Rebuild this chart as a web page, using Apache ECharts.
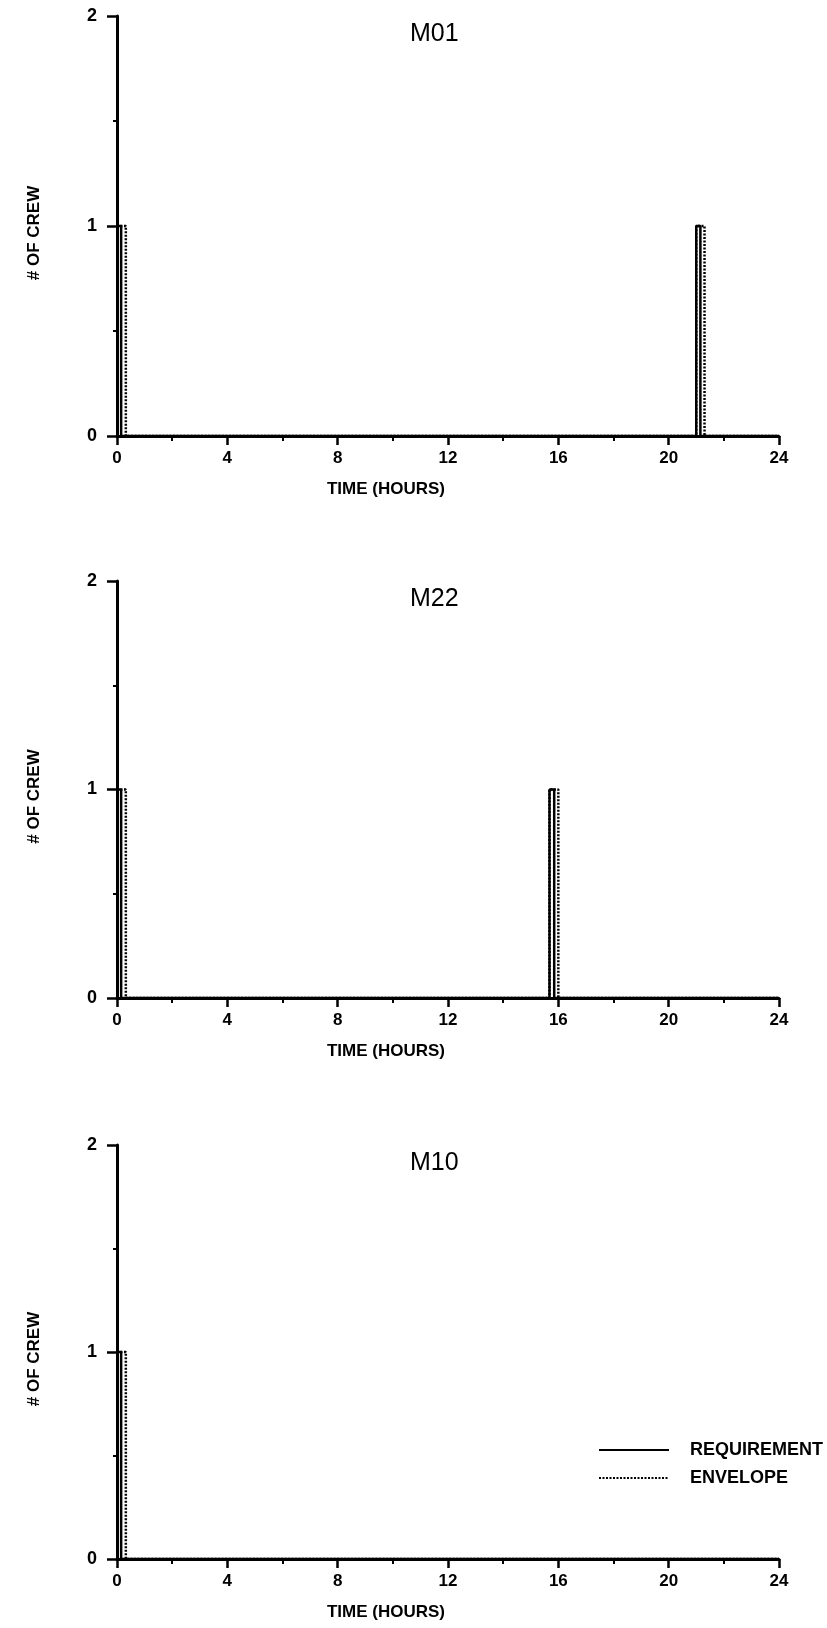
<!DOCTYPE html>
<html>
<head>
<meta charset="utf-8">
<title>crew</title>
<script src="https://cdn.jsdelivr.net/npm/echarts@6/dist/echarts.min.js"></script>
<style>
  html, body { margin: 0; padding: 0; background: #fff; }
  #myChart { width: 827px; height: 1628px; }
</style>
</head>
<body>
<div id="myChart"></div>
<script>
// step data: each point starts a level that holds until the next time
const panelTitles = ["M01", "M22", "M10"]
const xTicks = [0, 4, 8, 12, 16, 20, 24]
const yTicks = [0, 1, 2]

const m01ReqTimes = [0, 0.15, 21.0, 21.15, 24]
const m01ReqValues = [1, 0, 1, 0, 0]
const m01EnvTimes = [0, 0.32, 21.0, 21.3, 24]
const m01EnvValues = [1, 0, 1, 0, 0]

const m22ReqTimes = [0, 0.15, 15.68, 15.85, 24]
const m22ReqValues = [1, 0, 1, 0, 0]
const m22EnvTimes = [0, 0.32, 15.68, 16.0, 24]
const m22EnvValues = [1, 0, 1, 0, 0]

const m10ReqTimes = [0, 0.15, 24]
const m10ReqValues = [1, 0, 0]
const m10EnvTimes = [0, 0.32, 24]
const m10EnvValues = [1, 0, 0]

const panels = [
  { req: [m01ReqTimes, m01ReqValues], env: [m01EnvTimes, m01EnvValues], top: 16, height: 420 },
  { req: [m22ReqTimes, m22ReqValues], env: [m22EnvTimes, m22EnvValues], top: 581, height: 417 },
  { req: [m10ReqTimes, m10ReqValues], env: [m10EnvTimes, m10EnvValues], top: 1145, height: 414 }
]

const font = "Liberation Sans"
const pair = (t, v) => t.map((x, i) => [x, v[i]])

const options = {
  animation: false,
  backgroundColor: "#fff",
  title: panels.map((p, i) => ({
    text: panelTitles[i],
    left: 405,
    top: p.top + 1,
    textStyle: { fontFamily: font, fontSize: 25, fontWeight: "normal", color: "#000" }
  })),
  legend: {
    orient: "vertical",
    left: 593,
    top: 1436,
    itemWidth: 70,
    itemHeight: 14,
    itemGap: 10,
    data: ["REQUIREMENT", "ENVELOPE"],
    itemStyle: { opacity: 0 },
    textStyle: { fontFamily: font, fontSize: 18, fontWeight: "bold", color: "#000", padding: [0, 0, 0, 16] }
  },
  grid: panels.map(p => ({ left: 117, right: 48, top: p.top, height: p.height })),
  xAxis: panels.map((p, i) => ({
    type: "value",
    gridIndex: i,
    min: xTicks[0],
    max: xTicks[xTicks.length - 1],
    interval: 4,
    name: "TIME (HOURS)",
    nameLocation: "middle",
    nameGap: 45,
    nameTextStyle: { fontFamily: font, fontSize: 17, fontWeight: "bold", color: "#000", padding: [0, 124, 0, 0] },
    axisLine: { onZero: false, lineStyle: { color: "#000", width: 3 } },
    axisTick: { inside: false, length: 9, lineStyle: { color: "#000", width: 2.5 } },
    minorTick: { show: true, splitNumber: 2, length: 5, lineStyle: { color: "#000", width: 2 } },
    axisLabel: { margin: 14, fontFamily: font, fontSize: 17, fontWeight: "bold", color: "#000" },
    splitLine: { show: false }
  })),
  yAxis: panels.map((p, i) => ({
    type: "value",
    gridIndex: i,
    min: yTicks[0],
    max: yTicks[yTicks.length - 1],
    interval: 1,
    name: "# OF CREW",
    nameLocation: "middle",
    nameGap: 74,
    nameTextStyle: { fontFamily: font, fontSize: 17, fontWeight: "bold", color: "#000", padding: [0, 14, 0, 0] },
    axisLine: { show: true, onZero: false, lineStyle: { color: "#000", width: 3 } },
    axisTick: { show: true, length: 10, lineStyle: { color: "#000", width: 2.5 } },
    minorTick: { show: true, splitNumber: 2, length: 4, lineStyle: { color: "#000", width: 2 } },
    axisLabel: { margin: 20, fontFamily: font, fontSize: 18, fontWeight: "bold", color: "#000" },
    splitLine: { show: false }
  })),
  series: panels.flatMap((p, i) => [
    {
      name: "REQUIREMENT",
      type: "line",
      step: "end",
      xAxisIndex: i,
      yAxisIndex: i,
      symbol: "none",
      lineStyle: { color: "#000", width: 2.5, type: "solid" },
      itemStyle: { color: "#000" },
      data: pair(p.req[0], p.req[1])
    },
    {
      name: "ENVELOPE",
      type: "line",
      step: "end",
      xAxisIndex: i,
      yAxisIndex: i,
      symbol: "none",
      lineStyle: { color: "#000", width: 2.5, type: [2, 1.5] },
      itemStyle: { color: "#000" },
      data: pair(p.env[0], p.env[1])
    }
  ])
}

const chartBox = echarts.init(document.getElementById("myChart"))
chartBox.setOption(options)
</script>
</body>
</html>
